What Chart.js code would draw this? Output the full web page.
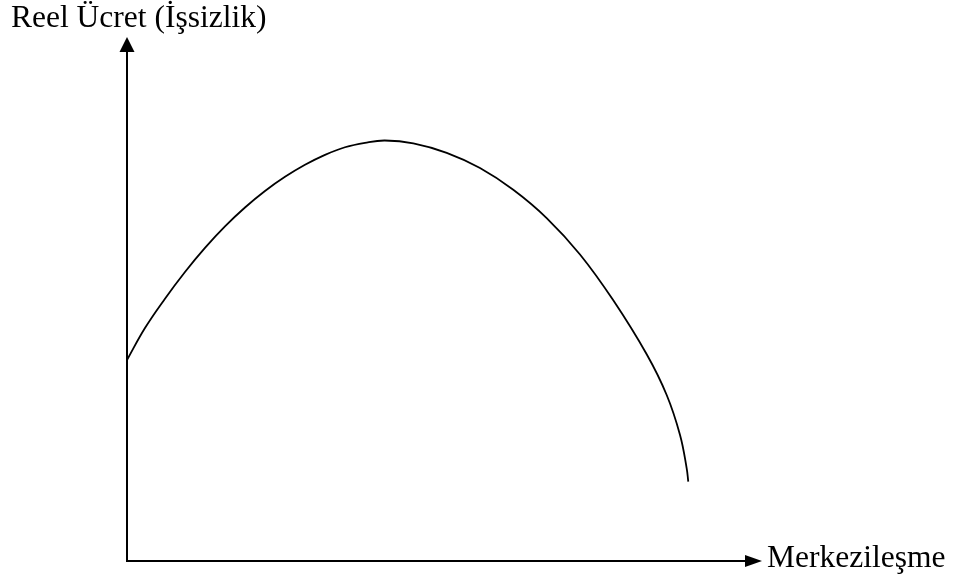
<!DOCTYPE html>
<html>
<head>
<meta charset="utf-8">
<script src="https://cdn.jsdelivr.net/npm/chart.js@4"></script>
<style>
  html, body { margin: 0; padding: 0; background: #fff; }
  #curveChart { display: block; }
</style>
</head>
<body>
<canvas id="curveChart" width="954" height="578"></canvas>
<script>
// values (x: merkezileşme, y: reel ücret), 0..100 axis units
const xValues = [0, 2.83, 5.98, 9.13, 12.28, 15.43, 18.58, 21.73, 24.88, 28.03, 31.18, 34.33, 37.48, 40.6, 45.09, 50.35, 55.59, 60.83, 66.09, 71.34, 76.58, 81.84, 84.99, 87.09, 88.14, 88.39];
const yValues = [38.36, 44.46, 50.06, 55.16, 59.76, 63.86, 67.46, 70.61, 73.31, 75.61, 77.51, 78.96, 79.81, 80.25, 79.71, 77.9, 75.0, 70.85, 65.45, 58.5, 49.75, 39.45, 31.68, 24.05, 17.69, 15.13];

const yAxisLabel = 'Reel Ücret (İşsizlik)';
const xAxisLabel = 'Merkezileşme';

const points = xValues.map((x, i) => ({ x: x, y: yValues[i] }));

const axesPlugin = {
    id: 'arrowAxes',
    afterDraw(chart) {
        const ctx = chart.ctx;
        const xs = chart.scales.x;
        const ys = chart.scales.y;
        const x0 = xs.getPixelForValue(0);
        const y0 = ys.getPixelForValue(0);
        const xEnd = xs.getPixelForValue(100);
        const yEnd = ys.getPixelForValue(100);

        ctx.save();
        ctx.strokeStyle = '#000';
        ctx.fillStyle = '#000';
        ctx.lineWidth = 2;

        // axes
        ctx.beginPath();
        ctx.moveTo(x0, yEnd + 14);
        ctx.lineTo(x0, y0);
        ctx.lineTo(xEnd - 16, y0);
        ctx.stroke();

        // arrow heads
        ctx.beginPath();
        ctx.moveTo(x0, yEnd);
        ctx.lineTo(x0 - 7.5, yEnd + 15);
        ctx.lineTo(x0 + 7.5, yEnd + 15);
        ctx.closePath();
        ctx.fill();

        ctx.beginPath();
        ctx.moveTo(xEnd, y0);
        ctx.lineTo(xEnd - 17, y0 - 6);
        ctx.lineTo(xEnd - 17, y0 + 6);
        ctx.closePath();
        ctx.fill();

        // labels
        ctx.font = '31.5px "Liberation Serif", "Times New Roman", serif';
        ctx.textBaseline = 'alphabetic';
        ctx.textAlign = 'left';
        ctx.fillText(yAxisLabel, 11, yEnd - 10);
        ctx.fillText(xAxisLabel, xEnd + 5, y0 + 6);
        ctx.restore();
    }
};

const ctx = document.getElementById('curveChart').getContext('2d');
const curveChart = new Chart(ctx, {
    type: 'scatter',
    data: {
        datasets: [{
            data: points,
            showLine: true,
            borderColor: '#000',
            borderWidth: 1.8,
            pointRadius: 0,
            tension: 0.4,
            clip: false
        }]
    },
    options: {
        responsive: false,
        animation: false,
        layout: {
            padding: { left: 127, top: 37, right: 192, bottom: 17 }
        },
        plugins: {
            legend: { display: false },
            tooltip: { enabled: false }
        },
        scales: {
            x: { type: 'linear', min: 0, max: 100, display: false },
            y: { type: 'linear', min: 0, max: 100, display: false }
        }
    },
    plugins: [axesPlugin]
});
</script>
</body>
</html>
